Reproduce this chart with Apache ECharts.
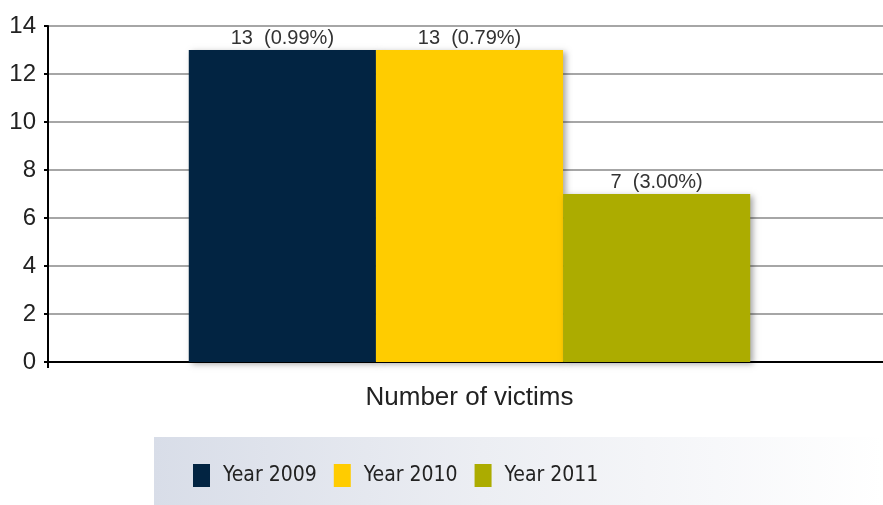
<!DOCTYPE html>
<html><head><meta charset="utf-8">
<script src="https://cdn.jsdelivr.net/npm/echarts@6/dist/echarts.min.js"></script>
<style>html,body{margin:0;padding:0;background:#fff}#c{width:883px;height:505px}</style>
</head><body><div id="c"></div>
<script>
var categories = ['Number of victims'];
var seriesNames = ['Year 2009', 'Year 2010', 'Year 2011'];
var seriesValues = [13, 13, 7];
var seriesPercents = ['0.99%', '0.79%', '3.00%'];
var seriesColors = ['#022442', '#ffcc00', '#acac00'];
var yTicks = [0, 2, 4, 6, 8, 10, 12, 14];

var FONT = 'Liberation Sans, Arial, sans-serif';
var NARROW = '"DejaVu Sans Condensed", sans-serif';
var chart = echarts.init(document.getElementById('c'), null, {renderer: 'canvas'});
var series = seriesNames.map(function (n, i) {
  return {
    name: n, type: 'bar', barGap: 0, barCategoryGap: '33.4%',
    data: [seriesValues[i]],
    itemStyle: {color: seriesColors[i], shadowColor: 'rgba(0,0,0,0.35)', shadowBlur: 6, shadowOffsetX: 3, shadowOffsetY: 2},
    label: {show: true, position: 'top', distance: 2, color: '#333', fontSize: 20, fontFamily: FONT,
      formatter: function (p) { return p.value + '  (' + seriesPercents[i] + ')'; }}
  };
});
chart.setOption({
  animation: false,
  textStyle: {fontFamily: FONT},
  graphic: [{
    type: 'rect', left: 154, top: 437, z: -1,
    shape: {width: 729, height: 68},
    style: {fill: new echarts.graphic.LinearGradient(0, 0, 1, 0, [{offset: 0, color: '#d8dde8'}, {offset: 0.45, color: '#eceef3'}, {offset: 1, color: '#ffffff'}])}
  }],
  legend: {
    data: seriesNames, left: 188, top: 459, itemWidth: 17, itemHeight: 23, itemGap: 17,
    icon: 'rect',
    textStyle: {fontSize: 21, color: '#222', fontFamily: NARROW, padding: [0, 0, 0, 8]}
  },
  grid: {left: 48, width: 843, top: 26, bottom: 143, containLabel: false, outerBoundsMode: 'none'},
  xAxis: {
    type: 'category', data: categories,
    axisLine: {lineStyle: {color: '#000', width: 2}},
    axisTick: {show: true, length: 6, lineStyle: {color: '#000', width: 2}},
    axisLabel: {fontSize: 26, color: '#222', margin: 23, fontFamily: FONT}
  },
  yAxis: {
    type: 'value', min: yTicks[0], max: yTicks[yTicks.length - 1], interval: 2,
    axisLine: {show: true, lineStyle: {color: '#000', width: 2}},
    axisTick: {show: true, length: 4, lineStyle: {color: '#000', width: 2}},
    axisLabel: {fontSize: 24, color: '#222', margin: 12, fontFamily: FONT},
    splitLine: {lineStyle: {color: '#888', width: 1.5}}
  },
  series: series
});
</script></body></html>
